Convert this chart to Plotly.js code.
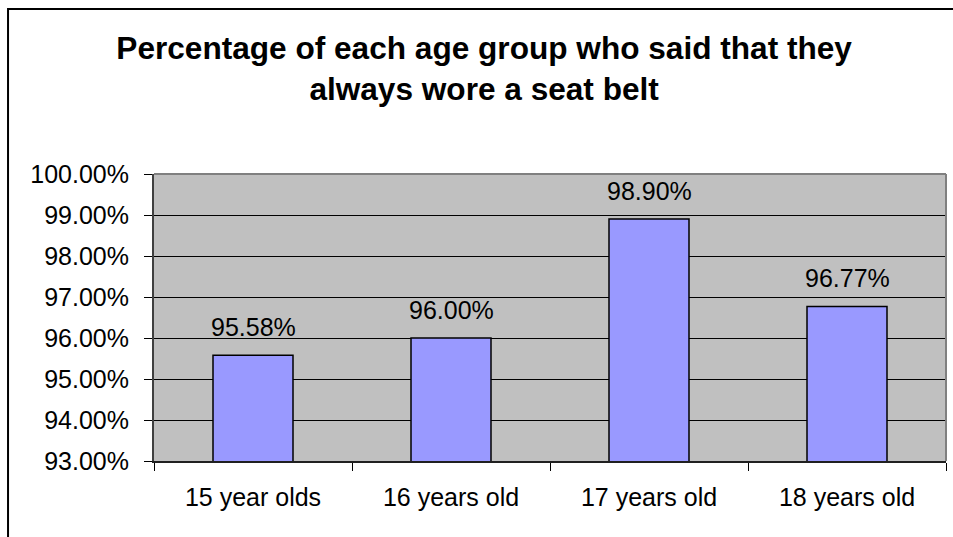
<!DOCTYPE html>
<html>
<head>
<meta charset="utf-8">
<script src="https://cdn.plot.ly/plotly-3.0.1.min.js"></script>
<style>html,body{margin:0;padding:0;background:#fff;}#chart{width:953px;height:537px;}</style>
</head>
<body>
<div id="chart"></div>
<script>
const categories = ["15 year olds", "16 years old", "17 years old", "18 years old"];
const values = [95.58, 96.00, 98.90, 96.77];
const yTickVals = [93, 94, 95, 96, 97, 98, 99, 100];
const yTickText = ["93.00%", "94.00%", "95.00%", "96.00%", "97.00%", "98.00%", "99.00%", "100.00%"];
const titleText = "Percentage of each age group who said that they<br>always wore a seat belt";

const FONT = "Liberation Sans, Arial, sans-serif";

const trace = {
  type: "bar",
  x: categories,
  y: values,
  marker: { color: "#9999FF", line: { color: "#000000", width: 1.5 } },
  hoverinfo: "skip",
  cliponaxis: true
};

const annotations = categories.map((c, i) => ({
  x: c, y: values[i], xref: "x", yref: "y",
  text: values[i].toFixed(2) + "%",
  showarrow: false, yanchor: "bottom", yshift: 12,
  font: { family: FONT, size: 25, color: "#000" }
}));

const layout = {
  width: 953, height: 537,
  margin: { l: 154, r: 7, t: 174, b: 76, pad: 0 },
  paper_bgcolor: "#ffffff",
  plot_bgcolor: "#C0C0C0",
  showlegend: false,
  bargap: 0.596,
  title: {
    text: titleText,
    font: { family: FONT, size: 31.6, color: "#000", weight: "bold" },
    xref: "container", x: 0.508, xanchor: "center",
    yref: "container", y: 0.891, yanchor: "middle"
  },
  xaxis: {
    type: "category",
    tickson: "boundaries",
    ticks: "outside", ticklen: 8, tickcolor: "#000", tickwidth: 1,
    showline: true, linecolor: "#202020", linewidth: 2,
    showgrid: false,
    ticklabelstandoff: 13,
    tickfont: { family: FONT, size: 25, color: "#000" }
  },
  yaxis: {
    range: [93, 100],
    tickvals: yTickVals, ticktext: yTickText,
    ticks: "outside", ticklen: 8, tickcolor: "#000", tickwidth: 1,
    showline: true, linecolor: "#404040", linewidth: 2,
    showgrid: true, gridcolor: "#000000", gridwidth: 1,
    zeroline: false,
    ticklabelstandoff: 10,
    tickfont: { family: FONT, size: 25, color: "#000" }
  },
  annotations: annotations,
  shapes: [
    { type: "line", xref: "paper", yref: "paper", x0: 0, x1: 1, y0: 1, y1: 1,
      line: { color: "#808080", width: 2 }, layer: "above" },
    { type: "line", xref: "paper", yref: "paper", x0: 1, x1: 1, y0: 0, y1: 1,
      line: { color: "#808080", width: 2 }, layer: "above" },
    { type: "rect", xref: "paper", yref: "paper", x0: -0.1843, x1: 1.2, y0: -0.6, y1: 1.575,
      line: { color: "#000000", width: 2 }, layer: "above" }
  ]
};

Plotly.newPlot("chart", [trace], layout, { displayModeBar: false, staticPlot: true });
</script>
</body>
</html>
